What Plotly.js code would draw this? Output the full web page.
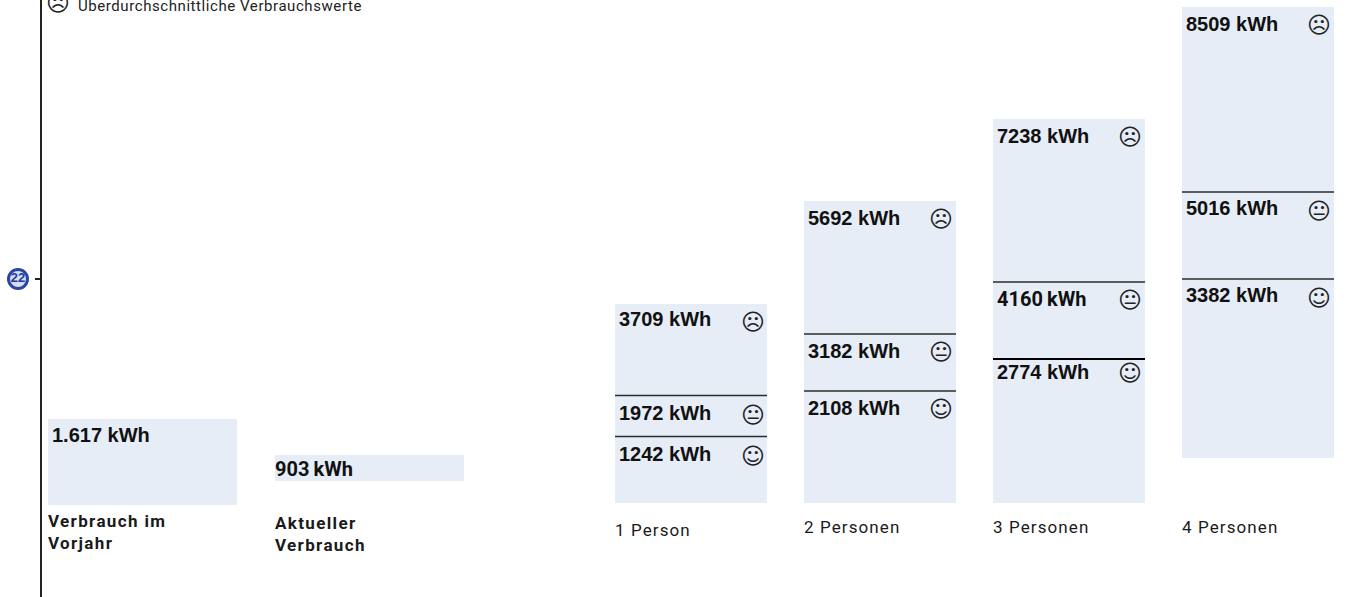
<!DOCTYPE html>
<html><head><meta charset="utf-8">
<script src="https://cdn.plot.ly/plotly-3.0.1.min.js"></script>
<style>html,body{margin:0;padding:0;background:#fff;overflow:hidden}#c{width:1348px;height:597px}</style>
</head><body><div id="c"></div>
<script>
// ---- data ----
const categories = [['Verbrauch im','Vorjahr'],['Aktueller','Verbrauch'],['1 Person'],['2 Personen'],['3 Personen'],['4 Personen']];
const totalLabels = ['1.617 kWh','903\u2009kWh'];
const highLabels = [3709,5692,7238,8509];
const midLabels  = [1972,3182,4160,5016];
const lowLabels  = [1242,2108,2774,3382];
// drawn levels (kWh on the chart's axis)
const barTops  = [1582,904,3747,5687,7231,9340];
const barBases = [-38,414,0,0,0,847];
const midLevels = [2024,3182,4161,5856];
const lowLevels = [1252,2109,2712,4218];
const axisTick = 4218;

// ---- layout constants (pixels) ----
const W=1348,H=597,KWH_PER_PX=18.83,BASE_PX=503;
const barLeft=[48,275,615,804,993,1182], barWidth=[189,189,152,152,152,152];
const faceX=[753,941,1130,1319];
const highY=[319,218,136,24], midY=[413,351,299,208], lowY=[454,408,372,295];
const faceHY=[322,219,137,25], faceMY=[415,352,300,211], faceLY=[456,409,373,298];
const catY=[532,534,530,527,527,527];
const fill='#E7EDF7', ink='#111';
const numFont={family:'"Liberation Sans",Arial,sans-serif',size:20,color:ink,weight:700};
const dinNum={family:'Roboto,sans-serif',size:20,color:ink,weight:700};
const din={family:'Roboto,sans-serif',size:17,color:'#1a1a1a'};
const py=p=>1-p/H;
const spaced=(s,px)=>'<span style="letter-spacing:'+px+'px">'+s+'</span>';
const ann=(x,p,text,font,extra)=>Object.assign({xref:'x',yref:'paper',x:x,y:py(p),text:text,font:font,showarrow:false,xanchor:'left',yanchor:'middle',align:'left',borderpad:0},extra||{});
const face=(x,p,g)=>ann(x,p,g,{family:'"DejaVu Sans",sans-serif',size:23,color:'#222'},{xanchor:'center'});

const annotations=[];
annotations.push(ann(51,435,totalLabels[0],numFont));
annotations.push(ann(274,469,totalLabels[1],dinNum));
categories.forEach((c,i)=>{
  const text=c.map(s=>spaced(s,i<2?1.35:1.1)).join('<br>');
  annotations.push(ann(barLeft[i]-1,catY[i],text,i<2?Object.assign({},din,{weight:700}):din));
});
[0,1,2,3].forEach(i=>{
  const l=barLeft[i+2]+3;
  annotations.push(ann(l,highY[i],highLabels[i]+' kWh',numFont));
  annotations.push(midLabels[i]===4160
    ? ann(l,midY[i],midLabels[i]+'\u2009kWh',dinNum)
    : ann(l,midY[i],midLabels[i]+' kWh',numFont));
  annotations.push(ann(l,lowY[i],lowLabels[i]+' kWh',numFont));
  annotations.push(face(faceX[i],faceHY[i],'\u2639'));
  annotations.push(face(faceX[i],faceMY[i],'\uD83D\uDE10'));
  annotations.push(face(faceX[i],faceLY[i],'\u263A'));
});
annotations.push(face(58,3,'\u2639'));
annotations.push(ann(77,6,spaced('Überdurchschnittliche Verbrauchswerte',0.57),{family:'Roboto,sans-serif',size:15,color:'#222'}));

const shapes=[];
[midLevels,lowLevels].forEach((arr,a)=>arr.forEach((v,i)=>{
  const k=i+2, strong=(a===1&&i===2);
  shapes.push({type:'line',xref:'x',yref:'y',x0:barLeft[k],x1:barLeft[k]+barWidth[k],y0:v,y1:v,line:{color:strong?'#000':'#2b2b2b',width:strong?2:1.3}});
}));

const traces=[{
  type:'bar',orientation:'v',
  x:barLeft.map((l,i)=>l+barWidth[i]/2),
  y:barTops.map((t,i)=>t-barBases[i]),
  base:barBases,width:barWidth,
  marker:{color:fill,line:{width:0}},hoverinfo:'skip',showlegend:false
},{
  type:'scatter',mode:'markers+text',x:[18],y:[axisTick],text:['<b>22</b>'],textposition:'middle center',
  textfont:{family:'"Liberation Sans",sans-serif',size:13,color:'#1F3A9C'},
  marker:{size:19,color:'#D6DEF3',line:{color:'#2A45A5',width:3}},cliponaxis:false,hoverinfo:'skip',showlegend:false
}];
const layout={
  width:W,height:H,margin:{l:0,r:0,t:0,b:0},paper_bgcolor:'#fff',plot_bgcolor:'#fff',showlegend:false,
  xaxis:{range:[0,W],domain:[0,1],visible:false,fixedrange:true},
  yaxis:{range:[(BASE_PX-H)*KWH_PER_PX,BASE_PX*KWH_PER_PX],domain:[0,1],anchor:'free',position:41/W,
    showline:true,linecolor:'#222',linewidth:2,showgrid:false,zeroline:false,
    tickmode:'array',tickvals:[axisTick],ticktext:[''],ticks:'outside',ticklen:5,tickwidth:2,tickcolor:'#222',showticklabels:false,fixedrange:true},
  annotations:annotations,shapes:shapes,bargap:0
};
Plotly.newPlot('c',traces,layout,{displayModeBar:false,staticPlot:true});
</script></body></html>
